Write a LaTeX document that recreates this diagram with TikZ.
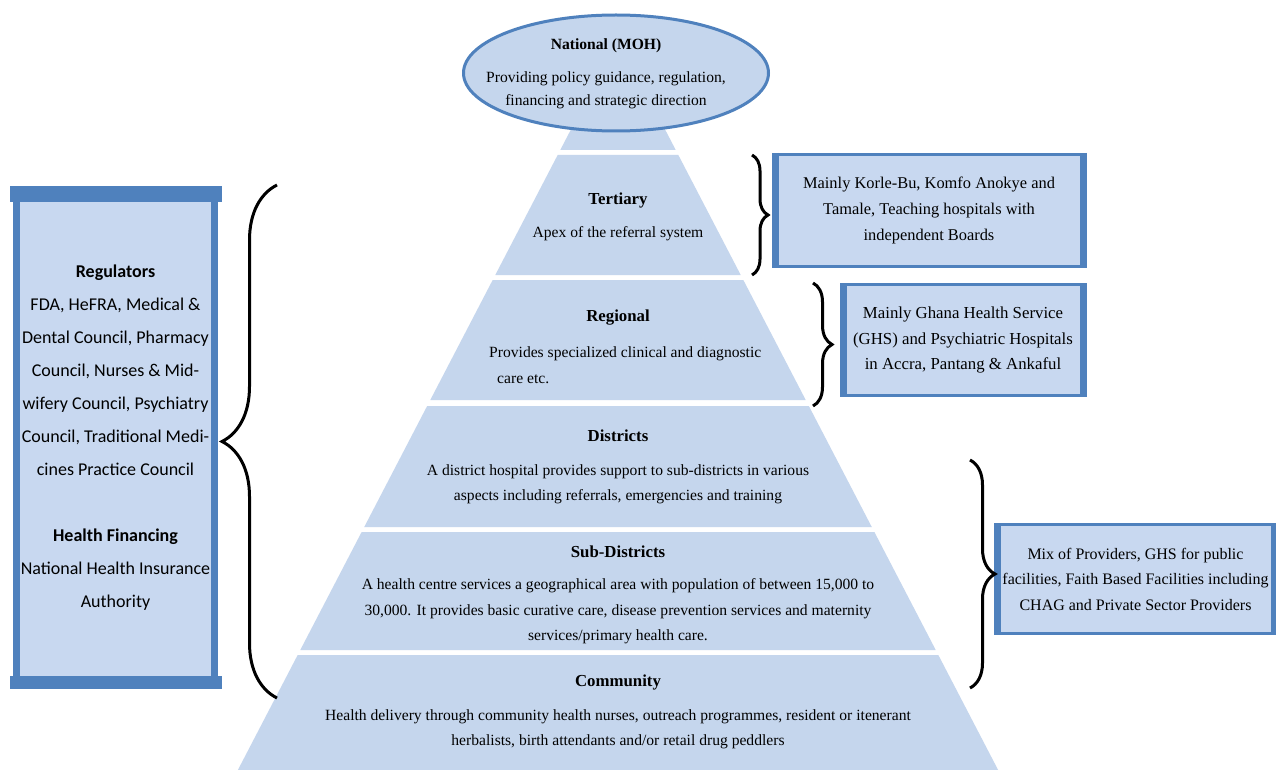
\documentclass[tikz,border=0pt]{standalone}
\usepackage{fontspec}
\setmainfont{Liberation Serif}
\newfontfamily\calib{Carlito}
\usetikzlibrary{shapes.geometric,decorations.pathreplacing}
\definecolor{pyr}{RGB}{197,214,237}
\definecolor{bfill}{RGB}{200,216,240}
\definecolor{bline}{RGB}{79,129,189}
\newcommand{\lvltitle}[1]{{\fontsize{16.8}{25.5}\selectfont\textbf{#1}}}
\begin{document}
\begin{tikzpicture}[x=1pt,y=-1pt,
  layer/.style={fill=pyr},
  ltext/.style={align=center, font=\fontsize{15.6}{25.5}\selectfont, inner sep=0pt},
  rbox/.style={draw=bline, line width=3pt, fill=bfill, align=center, inner sep=0pt},
  sidebar/.style={draw=bline, line width=7pt},
  brc/.style={decorate, decoration={brace, amplitude=#1}, line width=3pt}]
\useasboundingbox (0,0) rectangle (1276,770);
\fill[white] (0,0) rectangle (1276,770);
% pyramid layers
\foreach \a/\b in {100/150,155/275,280/400,406/527,532/650,655/770}{
  \fill[layer] ({618-0.52*(\a-39)},\a) -- ({618+0.52*(\a-39)},\a) -- ({618+0.52*(\b-39)},\b) -- ({618-0.52*(\b-39)},\b) -- cycle;
}
% national ellipse
\node[ellipse, draw=bline, line width=3pt, fill=pyr, minimum width=305pt, minimum height=116pt, inner sep=0pt] (nat) at (616,73) {};
\node[align=center, inner sep=0pt, font=\fontsize{15.6}{23}\selectfont] (natT) at (606,74)
  {\textbf{National (MOH)}\\[10pt]Providing policy guidance, regulation,\\financing and strategic direction};
% layer texts
\node[ltext] (tert) at (618,217) {\lvltitle{Tertiary}\\[8pt]Apex of the referral system};
\node[ltext] (regT) at (618,318) {\lvltitle{Regional}};
\node[ltext, align=left, anchor=west] (reg) at (489,365) {Provides specialized clinical and diagnostic\\\hspace*{8pt}care etc.};
\node[ltext] (dist) at (618,467) {\lvltitle{Districts}\\[8pt]A district hospital provides support to sub-districts in various\\aspects including referrals, emergencies and training};
\node[ltext] (sub) at (618,595) {\lvltitle{Sub-Districts}\\[7pt]A health centre services a geographical area with population of between 15,000 to\\30,000. It provides basic curative care, disease prevention services and maternity\\services/primary health care.};
\node[ltext] (comm) at (618,712) {\lvltitle{Community}\\[8pt]Health delivery through community health nurses, outreach programmes, resident or itenerant\\herbalists, birth attendants and/or retail drug peddlers};
% left box
\node[draw=bline, line width=7pt, fill=bfill, minimum width=198pt, minimum height=488pt, align=center, inner sep=0pt, font=\calib\fontsize{18}{33}\selectfont] (lb) at (115.5,437.5)
  {\textbf{Regulators}\\FDA, HeFRA, Medical \&\\Dental Council, Pharmacy\\Council, Nurses \& Mid-\\wifery Council, Psychiatry\\Council, Traditional Medi-\\cines Practice Council\\[33pt]\textbf{Health Financing}\\National Health Insurance\\Authority};
\fill[bline] ([xshift=-3.5pt,yshift=3.5pt]lb.north west) rectangle ([xshift=3.5pt,yshift=-11.5pt]lb.north east);
\fill[bline] ([xshift=-3.5pt,yshift=-3.5pt]lb.south west) rectangle ([xshift=3.5pt,yshift=9.5pt]lb.south east);
% right boxes
\node[rbox, minimum width=305pt, minimum height=112pt, font=\fontsize{16.4}{26}\selectfont] (b1) at (929,210.5) {Mainly Korle-Bu, Komfo Anokye and\\Tamale, Teaching hospitals with\\independent Boards};
\node[rbox, minimum width=237pt, minimum height=111pt, font=\fontsize{16.8}{25.5}\selectfont] (b2) at (963,340) {Mainly Ghana Health Service\\(GHS) and Psychiatric Hospitals\\in Accra, Pantang \& Ankaful};
\node[rbox, minimum width=274pt, minimum height=109pt, font=\fontsize{16}{25.5}\selectfont] (b3) at (1135.5,579) {Mix of Providers, GHS for public\\facilities, Faith Based Facilities including\\CHAG and Private Sector Providers};
\foreach \n in {b1,b2,b3}{
  \draw[sidebar] (\n.north west) -- (\n.south west);
  \draw[sidebar] (\n.north east) -- (\n.south east);
}
% braces
\coordinate (lbA) at (277,698); \coordinate (lbB) at (277,185);
\draw[brc=55] (lbA) -- (lbB);
\coordinate (tA) at (752,155); \coordinate (tB) at (752,275);
\draw[brc=16] (tA) -- (tB);
\coordinate (rA) at (813,283); \coordinate (rB) at (813,406);
\draw[brc=19] (rA) -- (rB);
\coordinate (sA) at (970,460); \coordinate (sB) at (970,688);
\draw[brc=25] (sA) -- (sB);
\end{tikzpicture}
\end{document}
